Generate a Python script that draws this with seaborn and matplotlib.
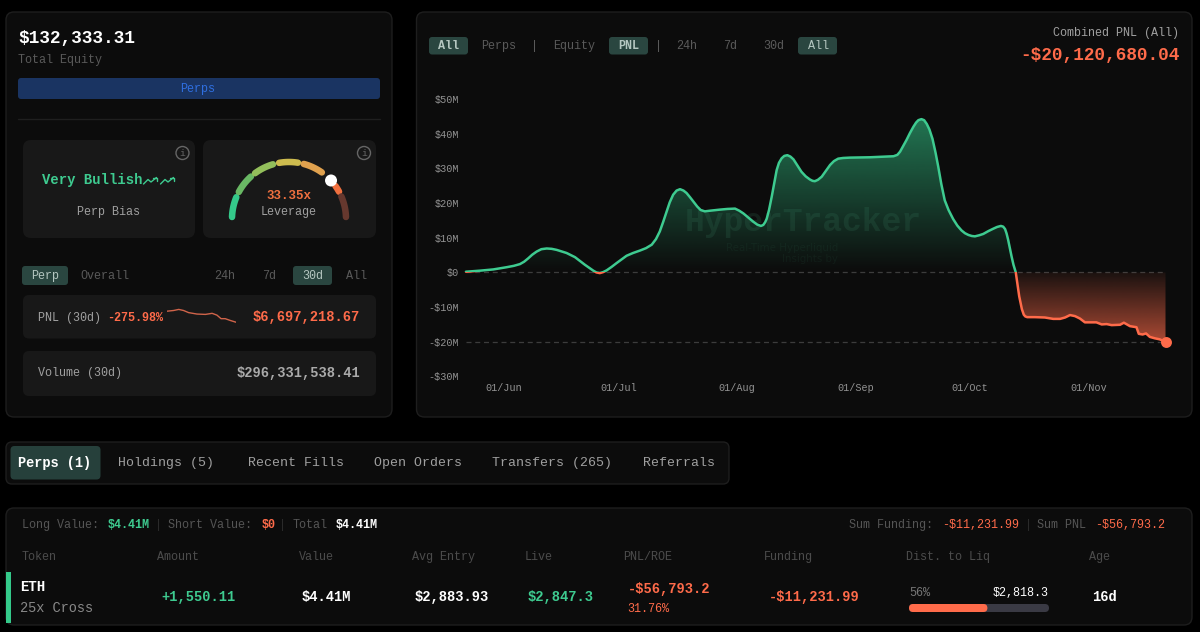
import numpy as np
import pandas as pd
import matplotlib
matplotlib.use("Agg")
import matplotlib.pyplot as plt
import matplotlib.dates as mdates
from matplotlib.patches import FancyBboxPatch, Circle, Rectangle
import seaborn as sns

# main PNL curve (days since 01/Jun, $M)
days = [-9.95, -6.3, -2.8, 0.7, 2.6, 4.2, 5.3, 6.4, 7.4, 8.55, 9.8, 11.2, 12.5, 13.8, 16.4, 18.6,
        21.2, 23.4, 24.2, 25.1, 26, 26.9, 28.2, 29.5, 32.1, 33.8, 35.6, 37.2, 38.7, 39.8,
        40.8, 41.7, 42.6, 43.4, 44.3, 45.2, 46.1, 47, 47.8, 48.7, 49.6, 50.6, 51.5, 52.6, 54,
        56.5, 58.5, 60.5, 61.6, 62.7, 64, 65.3, 66.3, 67.3, 67.9, 68.4, 68.8, 69.4,
        70.1, 70.8, 71.4, 72, 72.7, 73.4, 74.2, 75, 75.8, 76.8, 77.9, 79, 80.1, 80.8, 81.4, 82.2,
        83.2, 84.3, 85.4, 86.4, 87.5, 88.8, 90.6, 95.8, 100, 102, 103, 103.7, 105.4, 106.3,
        107.2, 107.9, 108.5, 109.3, 110, 110.7, 111.4, 112.2, 113, 113.7, 114.5, 115.4, 116.4,
        117.6, 118.7, 119.8, 120.7, 121.6, 122.5, 123.3, 124.4, 125.5, 126.8, 128.1, 129.1, 130.1,
        130.7, 131.2, 131.6, 132, 132.4, 132.9, 133.4, 134, 134.9, 135.3, 135.6, 136.1, 136.5, 137,
        139, 141.6, 143.8, 145.6, 146.9, 148.2, 149.5, 150.8, 152.1, 155.1, 156.5, 157.8, 159.1,
        161.3, 162.3, 163.9, 165.6, 166.2, 167.2, 168.1, 169.1, 170.4, 171.7, 173.2]
pnl = [0.2, 0.5, 0.86, 1.5, 1.9, 2.4, 3.1, 4.1, 5.1, 6.0, 6.7, 6.9, 6.8, 6.5, 5.6, 4.4,
       2.2, 0.5, 0.0, -0.2, 0.1, 0.6, 1.6, 2.7, 4.8, 5.6, 6.3, 7.0, 8.0, 9.6,
       11.8, 14.6, 17.6, 20.2, 22.4, 23.6, 24.0, 23.6, 22.9, 21.7, 20.4, 19.0, 18.0, 17.6, 17.8,
       18.1, 18.3, 18.4, 17.8, 17.0, 15.8, 14.6, 13.8, 13.4, 13.7, 14.5, 15.5, 18.0,
       21.8, 26.0, 29.5, 31.6, 32.9, 33.6, 33.8, 33.4, 32.6, 30.9, 29.0, 27.7, 26.8, 26.4, 26.3, 26.7,
       27.6, 29.3, 31.0, 32.1, 32.8, 33.0, 33.1, 33.2, 33.4, 33.5, 33.9, 34.8, 38.2, 40.2,
       42.0, 43.2, 43.9, 44.2, 43.9, 42.8, 41.2, 38.5, 34.5, 30.5, 25.5, 20.8, 18.0,
       15.4, 13.5, 12.1, 11.3, 10.8, 10.5, 10.4, 10.7, 11.1, 11.9, 12.6, 13.1, 13.4,
       13.2, 12.5, 11.2, 9.4, 7.2, 4.6, 2.2, 0.0, -6.9, -9.0, -10.6, -12.2, -12.7, -12.9,
       -12.9, -13.0, -13.4, -13.4, -13.0, -12.3, -12.6, -13.3, -14.4, -14.4, -15.0, -14.9, -15.2,
       -15.1, -14.5, -15.5, -15.8, -17.7, -17.9, -17.6, -18.6, -19.0, -19.3, -20.1]
y_ticks = [50, 40, 30, 20, 10, 0, -10, -20, -30]
y_tick_labels = ["$50M", "$40M", "$30M", "$20M", "$10M", "$0", "-$10M", "-$20M", "-$30M"]
ref_lines = [0, -20]

# small 30d sparkline on the left card
spark_days = [0, 2.9, 5.1, 7.2, 9.4, 13, 16.7, 19.6, 21.7, 23.5, 25.3, 27.5, 30]
spark_vals = [35, 37, 40, 37, 31, 27, 26, 29, 24, 14, 14, 9, 4]

# leverage gauge: arc segments in degrees, with colours
gauge_start = [178, 151.7, 126.6, 100, 75, 35.5, 23.3]
gauge_end = [157.5, 131.9, 106.3, 81, 54.8, 28.6, 2]
gauge_colors = ["#34c98a", "#69b864", "#93bf5b", "#cdbb4e", "#e0a14e", "#f0703f", "#66382e"]
gauge_knob = 42.5

liq_pct = 56

GREEN = "#3ecb90"
RED = "#ff6b4a"
PANEL = "#0c0c0c"
CARD = "#181818"
EDGE = "#1e1e1e"
BTN = "#2a4640"
MONO = "Liberation Mono"

sns.set_theme(style="dark", rc={"figure.facecolor": "black", "axes.facecolor": "none"})
plt.rcParams["font.family"] = [MONO, "DejaVu Sans"]

fig = plt.figure(figsize=(12, 6.32), dpi=100)
bg = fig.add_axes([0, 0, 1, 1])
bg.set_xlim(0, 1200)
bg.set_ylim(632, 0)
bg.axis("off")


def box(x0, y0, x1, y1, fill, edge="none", r=6, lw=1.0):
    bg.add_patch(FancyBboxPatch((x0 + r, y0 + r), x1 - x0 - 2 * r, y1 - y0 - 2 * r,
                                boxstyle=f"round,pad={r},rounding_size={r}",
                                fc=fill, ec=edge, lw=lw))


def txt(x, y, s, color="#a0a0a0", px=11.8, ha="left", bold=False, **kw):
    # baseline anchored so brackets and descenders do not shift a row
    bg.text(x, y + 0.3 * px, s, color=color, fontsize=px * 0.72, ha=ha, va="baseline",
            fontweight="bold" if bold else "normal", family=MONO, **kw)


# panels
box(6, 12, 392, 417, PANEL, EDGE, r=8)
box(416.5, 12, 1192, 417, PANEL, EDGE, r=8)
box(6, 442, 729, 484, PANEL, EDGE, r=6)
box(6, 508, 1192, 625, PANEL, EDGE, r=8)

# left panel, top
txt(18, 37.5, "$132,333.31", "#ffffff", 17.7, bold=True)
txt(18, 59.5, "Total Equity", "#5a5a5a")
box(18, 78, 380, 99, "#1a3462", r=3)
txt(198, 88, "Perps", "#2f6fe0", ha="center")
bg.plot([18, 380], [119, 119], color="#1f1f1f", lw=1)

box(23, 140, 195, 238, CARD, r=8)
box(203, 140, 376, 238, CARD, r=8)
for cx in [182.5, 364]:
    bg.add_patch(Circle((cx, 153), 6.5, fc="none", ec="#666666", lw=1))
    txt(cx, 153, "i", "#666666", 9.5, ha="center")

txt(42, 180, "Very Bullish", GREEN, 13.9, bold=True)
for off in [0, 17]:
    bg.plot(np.array([143.5, 148, 151, 156.5]) + off, [184, 179.5, 182, 177.5], color=GREEN, lw=1)
    bg.plot(np.array([153, 156.5, 156.5]) + off, [177.5, 177.5, 181], color=GREEN, lw=1)
txt(108.5, 211, "Perp Bias", "#a0a0a0", ha="center")

# leverage gauge
for a0, a1, c in zip(gauge_start, gauge_end, gauge_colors):
    t = np.radians(np.linspace(a0, a1, 30))
    bg.plot(289 + 57 * np.cos(t), 219 - 57 * np.sin(t), color=c, lw=4.7, solid_capstyle="round")
kt = np.radians(gauge_knob)
bg.add_patch(Circle((289 + 57 * np.cos(kt), 219 - 57 * np.sin(kt)), 6, fc="white", ec="none", zorder=5))
txt(289, 195, "33.35x", "#f0703f", 12.5, ha="center", bold=True)
txt(289, 211, "Leverage", "#a0a0a0", ha="center")

# period row
box(22, 266, 68, 285, BTN, r=3)
box(293, 266, 332, 285, BTN, r=3)
txt(45, 275.5, "Perp", "#b5c7c1", ha="center")
txt(105, 275.5, "Overall", "#5a5a5a", ha="center")
txt(225, 275.5, "24h", "#5a5a5a", ha="center")
txt(269, 275.5, "7d", "#5a5a5a", ha="center")
txt(312.5, 275.5, "30d", "#b5c7c1", ha="center")
txt(356, 275.5, "All", "#5a5a5a", ha="center")

box(23, 295, 376, 338.5, CARD, r=6)
box(23, 351, 376, 396, CARD, r=6)
txt(38, 317.5, "PNL (30d)")
txt(107, 317.5, "-275.98%", RED, bold=True)
txt(360, 317, "$6,697,218.67", RED, 13.8, ha="right", bold=True)
txt(38, 372, "Volume (30d)")
txt(360, 373, "$296,331,538.41", "#aaaaaa", 13.8, ha="right", bold=True)

spark = fig.add_axes([167 / 1200, 1 - 324 / 632, 69 / 1200, 16 / 632])
sns.lineplot(x=spark_days, y=spark_vals, ax=spark, color="#d0644a", lw=1.0, estimator=None)
spark.set_xlim(0, 30)
spark.set_ylim(-1, 44)
spark.axis("off")

# chart header
box(429, 37, 468, 54.5, BTN, r=3)
box(609, 37, 648, 54.5, BTN, r=3)
box(798, 37, 837, 54.5, BTN, r=3)
txt(449, 45.5, "All", "#b5c7c1", ha="center", bold=True)
txt(499, 45.5, "Perps", "#5a5a5a", ha="center")
txt(535, 45.5, "|", "#5a5a5a", ha="center")
txt(574.5, 45.5, "Equity", "#5a5a5a", ha="center")
txt(628.5, 45.5, "PNL", "#b5c7c1", ha="center", bold=True)
txt(658, 45.5, "|", "#5a5a5a", ha="center")
txt(687, 45.5, "24h", "#5a5a5a", ha="center")
txt(730, 45.5, "7d", "#5a5a5a", ha="center")
txt(774, 45.5, "30d", "#5a5a5a", ha="center")
txt(818, 45.5, "All", "#b5c7c1", ha="center")
txt(1179, 32.5, "Combined PNL (All)", "#a0a0a0", ha="right")
txt(1180, 55, "-$20,120,680.04", RED, 17.7, ha="right", bold=True)

# main chart
ax = fig.add_axes([462 / 1200, 1 - 382 / 632, 710 / 1200, 292 / 632])
dates = pd.Timestamp("2025-06-01") + pd.to_timedelta(days, unit="D")
pnl_arr = np.array(pnl)
x_lo = pd.Timestamp("2025-06-01") + pd.Timedelta(days=-10.98)
x_hi = pd.Timestamp("2025-06-01") + pd.Timedelta(days=174.9)
y_lo, y_hi = -31.6, 52.6
x0n, x1n = mdates.date2num(x_lo), mdates.date2num(x_hi)

for y in ref_lines:
    ax.hlines(y, dates[0], dates[-1], color="#3c3c3c", lw=0.9, linestyles=(0, (4, 3)), zorder=1)

sns.lineplot(x=dates, y=pnl, ax=ax, color=GREEN, lw=1.8, estimator=None, zorder=4)
ax.lines[-1].set_clip_path(Rectangle((x0n, 0), x1n - x0n, y_hi, transform=ax.transData))
ax.lines[-1].set_solid_joinstyle("round")
sns.lineplot(x=dates, y=pnl, ax=ax, color=RED, lw=1.8, estimator=None, zorder=4)
ax.lines[-1].set_clip_path(Rectangle((x0n, y_lo), x1n - x0n, -y_lo, transform=ax.transData))
ax.lines[-1].set_solid_joinstyle("round")
sns.scatterplot(x=dates[-1:], y=pnl[-1:], ax=ax, color=RED, s=62, linewidth=0, zorder=5)

# gradient fills, clipped to the area under the curve
green_grad = np.zeros((256, 1, 4))
green_grad[..., :3] = matplotlib.colors.to_rgb("#34c98a")
green_grad[:, 0, 3] = np.linspace(0.0, 0.56, 256)
top = max(pnl)
im = ax.imshow(green_grad, extent=[x0n, x1n, 0, top], origin="lower", aspect="auto", zorder=2)
area = ax.fill_between(dates, np.maximum(pnl_arr, 0), 0, fc="none", ec="none")
im.set_clip_path(area.get_paths()[0], ax.transData)

red_grad = np.zeros((256, 1, 4))
red_grad[..., :3] = matplotlib.colors.to_rgb(RED)
red_grad[:, 0, 3] = np.linspace(0.66, 0.06, 256)
bottom = min(pnl)
im2 = ax.imshow(red_grad, extent=[x0n, x1n, bottom, 0], origin="lower", aspect="auto", zorder=2)
area2 = ax.fill_between(dates, np.minimum(pnl_arr, 0), 0, fc="none", ec="none")
im2.set_clip_path(area2.get_paths()[0], ax.transData)

ax.text(803, 223, "HyperTracker", transform=bg.transData, color="#3d8a6a", alpha=0.17, fontsize=33 * 0.72,
        fontweight="bold", ha="center", va="center", family=MONO, zorder=3)
ax.text(838, 248, "Real-Time Hyperliquid", transform=bg.transData, color="#3d8a6a", alpha=0.09, fontsize=7.4,
        ha="right", va="center", family="DejaVu Sans", zorder=3)
ax.text(838, 259, "Insights by", transform=bg.transData, color="#3d8a6a", alpha=0.09, fontsize=7.4,
        ha="right", va="center", family="DejaVu Sans", zorder=3)

ax.set_xlim(x_lo, x_hi)
ax.set_ylim(y_lo, y_hi)
ax.set_xlabel("")
ax.set_ylabel("")
ax.set_yticks(y_ticks)
ax.set_yticklabels(y_tick_labels)
ax.xaxis.set_major_locator(mdates.MonthLocator(bymonthday=1))
ax.xaxis.set_major_formatter(mdates.DateFormatter("%d/%b"))
ax.tick_params(axis="both", length=0, colors="#939393", labelsize=7.3)
ax.tick_params(axis="y", pad=2)
ax.tick_params(axis="x", pad=1)
ax.grid(False)
sns.despine(ax=ax, left=True, bottom=True)

# tabs
box(10.5, 446, 100.5, 479.5, "#26403b", r=4)
txt(55, 462.5, "Perps (1)", "#ffffff", 13.6, ha="center", bold=True)
for cx, label in zip([166.5, 295.5, 418, 552, 679.5],
                     ["Holdings (5)", "Recent Fills", "Open Orders", "Transfers (265)", "Referrals"]):
    txt(cx, 462.5, label, "#a0a0a0", 13.3, ha="center")

# positions table
bg.add_patch(Rectangle((6, 572), 4.5, 51, fc="#34c98a", ec="none"))
txt(22, 524.5, "Long Value:", "#555555")
txt(108, 524.5, "$4.41M", GREEN, bold=True)
txt(159, 524.5, "|", "#2a2a2a", ha="center")
txt(168, 524.5, "Short Value:", "#555555")
txt(262, 524.5, "$0", RED, bold=True)
txt(283, 524.5, "|", "#2a2a2a", ha="center")
txt(292.5, 524.5, "Total", "#555555")
txt(336, 524.5, "$4.41M", "#ffffff", bold=True)
txt(849, 524.5, "Sum Funding:", "#555555")
txt(942.5, 524.5, "-$11,231.99", RED)
txt(1028, 524.5, "|", "#2a2a2a", ha="center")
txt(1037, 524.5, "Sum PNL", "#555555")
txt(1095.5, 524.5, "-$56,793.2", RED)

for x, label in zip([22, 157, 298.5, 411.5, 524.5, 623, 764, 905.5, 1089],
                    ["Token", "Amount", "Value", "Avg Entry", "Live", "PNL/ROE", "Funding", "Dist. to Liq", "Age"]):
    txt(x, 556.5, label, "#4c4c4c")

txt(20, 587, "ETH", "#ffffff", 14, bold=True)
txt(20, 608, "25x Cross", "#888888", 13.6)
txt(161, 597, "+1,550.11", GREEN, 13.8, bold=True)
txt(302, 597, "$4.41M", "#ffffff", 13.8, bold=True)
txt(415, 597, "$2,883.93", "#ffffff", 13.8, bold=True)
txt(528, 597, "$2,847.3", GREEN, 13.8, bold=True)
txt(628, 589, "-$56,793.2", RED, 13.8, bold=True)
txt(627, 608, "31.76%", RED)
txt(769, 597, "-$11,231.99", RED, 13.8, bold=True)
txt(909, 592, f"{liq_pct}%", "#777777")
txt(1049, 592, "$2,818.3", "#ffffff", ha="right")
box(909, 604, 1049, 612, "#3a3a44", r=4)
box(909, 604, 909 + 140 * liq_pct / 100, 612, RED, r=4)
txt(1092.5, 597, "16d", "#ffffff", 13.8, bold=True)

fig.savefig("out.png", dpi=100, facecolor="black")
